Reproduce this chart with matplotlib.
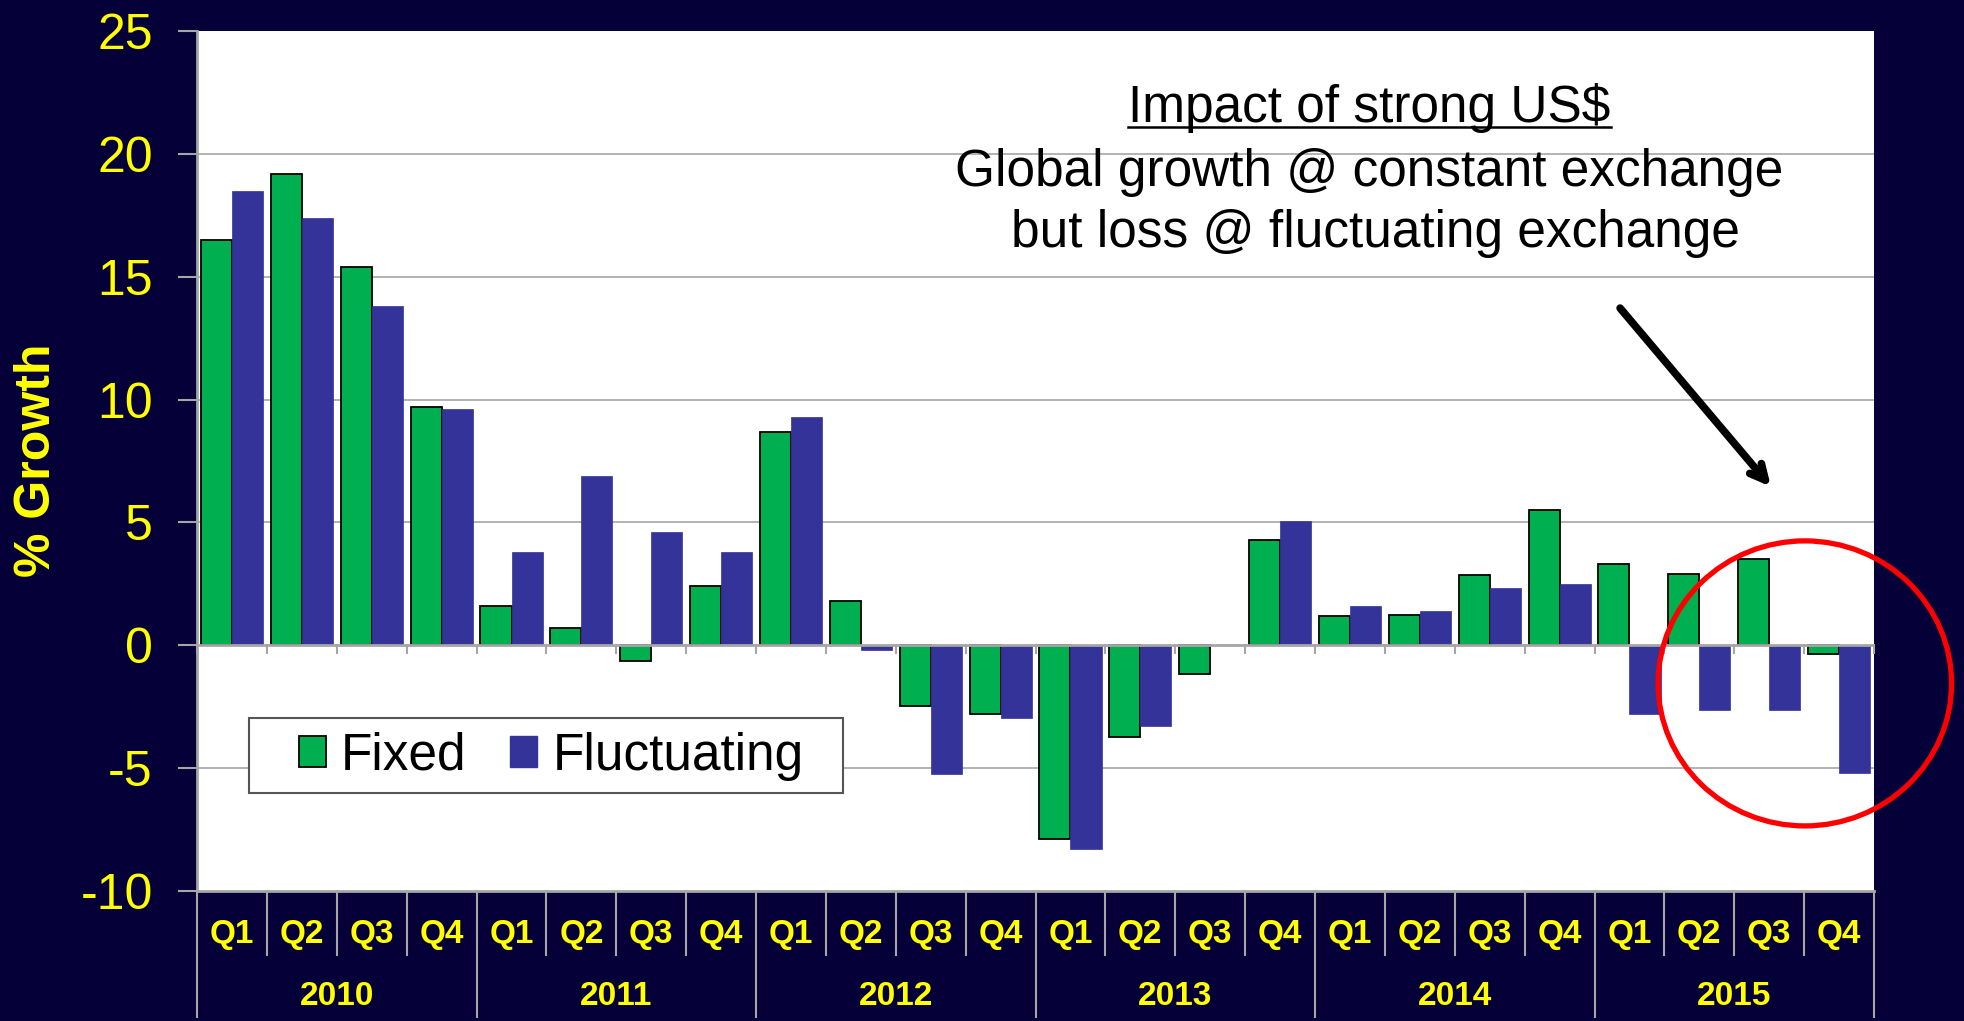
import numpy as np
import matplotlib
matplotlib.use("Agg")
import matplotlib.pyplot as plt
from matplotlib.patches import Ellipse, Patch, Rectangle
from matplotlib.transforms import blended_transform_factory

# data
years = ["2010", "2011", "2012", "2013", "2014", "2015"]
quarters = ["Q1", "Q2", "Q3", "Q4"]
fixed = [16.5, 19.2, 15.4, 9.7,
         1.6, 0.7, -0.65, 2.4,
         8.7, 1.8, -2.45, -2.8,
         -7.9, -3.75, -1.15, 4.3,
         1.2, 1.25, 2.85, 5.5,
         3.3, 2.9, 3.5, -0.35]
fluctuating = [18.5, 17.4, 13.8, 9.6,
               3.8, 6.9, 4.6, 3.8,
               9.3, -0.2, -5.25, -2.95,
               -8.3, -3.3, 0.0, 5.05,
               1.6, 1.4, 2.35, 2.5,
               -2.8, -2.65, -2.65, -5.2]
note_title = "Impact of strong US$"
note_lines = ["Global growth @ constant exchange", "but loss @ fluctuating exchange"]

NAVY = "#050038"
GREEN = "#00B050"
BLUE = "#333399"
YELLOW = "#FFFF00"
GRID = "#A6A6A6"

plt.rcParams["font.family"] = ["Liberation Sans", "DejaVu Sans"]

fig = plt.figure(figsize=(19.65, 10.21), dpi=100, facecolor=NAVY)
ax = fig.add_axes([0.1003, 0.1273, 0.8534, 0.8423], facecolor="white")

x = np.arange(len(fixed))
w = 0.445
ax.bar(x - w / 2, fixed, w, color=GREEN, edgecolor="black", linewidth=1.3, zorder=3)
ax.bar(x + w / 2, fluctuating, w, color=BLUE, edgecolor=BLUE, linewidth=0.5, zorder=3)

ax.set_xlim(-0.5, len(fixed) - 0.5)
ax.set_ylim(-10, 25)
ax.set_yticks(np.arange(-10, 26, 5))
ax.set_yticklabels([str(v) for v in range(-10, 26, 5)])
ax.tick_params(axis="y", colors=GRID, labelcolor=YELLOW, labelsize=36,
               length=14, width=1.5, pad=18)
ax.set_xticks([])

for v in [-5, 5, 10, 15, 20]:
    ax.axhline(v, color=GRID, lw=1.2, zorder=1)
ax.axhline(0, color=GRID, lw=2, zorder=4)

for s in ["top", "right"]:
    ax.spines[s].set_visible(False)
for s in ["left", "bottom"]:
    ax.spines[s].set_color(GRID)
    ax.spines[s].set_linewidth(2)

# two-level category axis below the plot
tr = blended_transform_factory(ax.transData, ax.transAxes)
for i in range(len(fixed)):
    ax.text(i, -0.05, quarters[i % 4], transform=tr, ha="center", va="center",
            color=YELLOW, fontsize=24, fontweight="bold")
for k in range(len(fixed) + 1):
    b = k - 0.5
    bottom = -0.147 if k % 4 == 0 else -0.074
    ax.plot([b, b], [0, bottom], transform=tr, color=GRID, lw=1.5, clip_on=False, zorder=5)
    ax.plot([b, b], [0, -0.3], color=GRID, lw=1.5, clip_on=False, zorder=4)
for j, yr in enumerate(years):
    ax.text(j * 4 + 1.5, -0.123, yr, transform=tr, ha="center", va="center",
            color=YELLOW, fontsize=24, fontweight="bold")

fig.text(0.019, 0.549, "% Growth", rotation=90, ha="center", va="center",
         color=YELLOW, fontsize=36, fontweight="bold")

# legend: frame drawn by hand, the box is wider than the entries
ax.add_patch(Rectangle((0.031, 0.114), 0.354, 0.087, transform=ax.transAxes,
                       facecolor="white", edgecolor="#555555", lw=1.5, zorder=6))
handles = [Patch(facecolor=GREEN, edgecolor="black", linewidth=1.3, label="Fixed"),
           Patch(facecolor=BLUE, edgecolor=BLUE, label="Fluctuating")]
leg = ax.legend(handles=handles, loc="center left", bbox_to_anchor=(0.0608, 0.157),
                ncol=2, frameon=False, borderaxespad=0, borderpad=0,
                prop={"family": "Liberation Sans", "size": 37},
                handlelength=0.52, handleheight=0.55, handletextpad=0.3,
                columnspacing=0.85)
leg.set_zorder(7)

# annotation text
t1 = ax.text(16.28, 21.31, note_title, ha="center", va="baseline", fontsize=37, color="black", zorder=7)
ax.text(16.27, 18.71, note_lines[0], ha="center", va="baseline", fontsize=37, color="black", zorder=7)
ax.text(16.37, 16.21, note_lines[1], ha="center", va="baseline", fontsize=37, color="black", zorder=7)

ax.annotate("", xy=(22.05, 6.37), xytext=(19.84, 13.81),
            arrowprops=dict(arrowstyle="->,head_length=1.1,head_width=0.55",
                            lw=5.5, color="black", capstyle="round", joinstyle="round"),
            zorder=7)

ax.add_patch(Ellipse((22.51, -1.55), 4.2, 11.6, fill=False, edgecolor="#FF0000",
                     lw=3.8, clip_on=False, zorder=8))

fig.canvas.draw()
bb = t1.get_window_extent().transformed(ax.transData.inverted())
ax.plot([bb.x0, bb.x1], [21.09, 21.09], color="black", lw=1.8, zorder=7)

fig.savefig("out.png", dpi=100, facecolor=NAVY)
